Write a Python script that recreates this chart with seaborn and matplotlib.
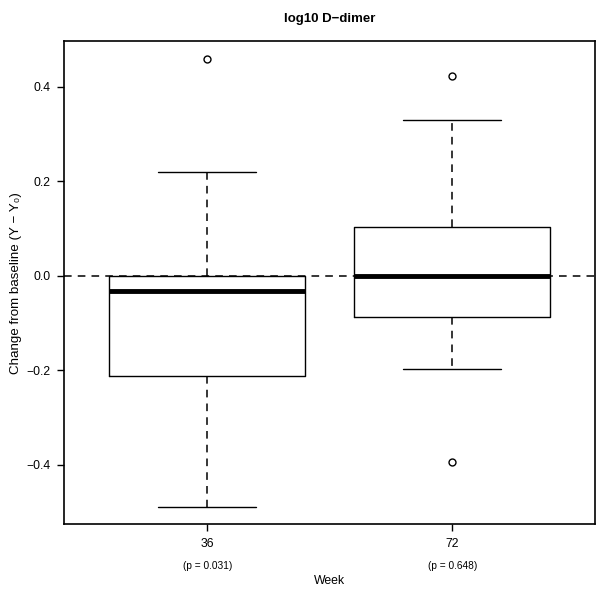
import numpy as np
import matplotlib
matplotlib.use("Agg")
import matplotlib.pyplot as plt
import seaborn as sns

# values (log10 D-dimer change from baseline)
weeks = ["36", "72"]
p_values = ["(p = 0.031)", "(p = 0.648)"]
whisker_low = [-0.490, -0.198]
q1 = [-0.213, -0.088]
median = [-0.033, 0.000]
q3 = [0.000, 0.103]
whisker_high = [0.219, 0.329]
outliers = [[0.458], [0.422, -0.395]]

sns.set_style("white")
plt.rcParams['font.family'] = ['Liberation Sans', 'DejaVu Sans']
plt.rcParams['text.color'] = 'black'
plt.rcParams['axes.labelcolor'] = 'black'
plt.rcParams['xtick.color'] = 'black'
plt.rcParams['ytick.color'] = 'black'

fig, ax = plt.subplots(figsize=(6.0, 5.89), dpi=100)
fig.subplots_adjust(left=0.107, right=0.992, top=0.930, bottom=0.110)

stats = []
for i, w in enumerate(weeks):
    stats.append(dict(label=w, whislo=whisker_low[i], q1=q1[i], med=median[i],
                      q3=q3[i], whishi=whisker_high[i], fliers=outliers[i]))

dash = (0, (5, 4))
positions = np.arange(1, len(weeks) + 1)
ax.bxp(stats, positions=positions, widths=0.8, showfliers=True,
       boxprops=dict(color="black", linewidth=1.0),
       medianprops=dict(color="black", linewidth=3.5, solid_capstyle="butt"),
       whiskerprops=dict(color="black", linewidth=1.1, linestyle=dash),
       capprops=dict(color="black", linewidth=1.0),
       flierprops=dict(marker="o", markerfacecolor="none", markeredgecolor="black",
                       markersize=5, markeredgewidth=1.0),
       capwidths=0.4)

ax.axhline(0, color="black", linewidth=1.1, linestyle=dash, zorder=0)

ax.set_xlim(0.416, 2.584)
ax.set_ylim(-0.526, 0.496)
ax.set_yticks([-0.4, -0.2, 0.0, 0.2, 0.4])
ax.set_yticklabels(["\u22120.4", "\u22120.2", "0.0", "0.2", "0.4"])
ax.set_xticks(positions)
ax.set_xticklabels(weeks)
for pos, p in zip(positions, p_values):
    ax.text(pos, -0.076, p, transform=ax.get_xaxis_transform(), ha="center",
            va="top", fontsize=7.3)

ax.tick_params(axis="both", direction="out", length=5, width=1, labelsize=8.8,
               bottom=True, left=True, pad=5)
for s in ax.spines.values():
    s.set_linewidth(1.2)
    s.set_color("black")

ax.set_xlabel("Week", fontsize=8.8, labelpad=18)
ax.set_ylabel("Change from baseline (Y \u2212 Y\u2080)", fontsize=9.6, labelpad=3)
ax.set_title("log10 D\u2212dimer", fontsize=9.5, fontweight="bold", pad=14)

fig.savefig("out.png", dpi=100)
